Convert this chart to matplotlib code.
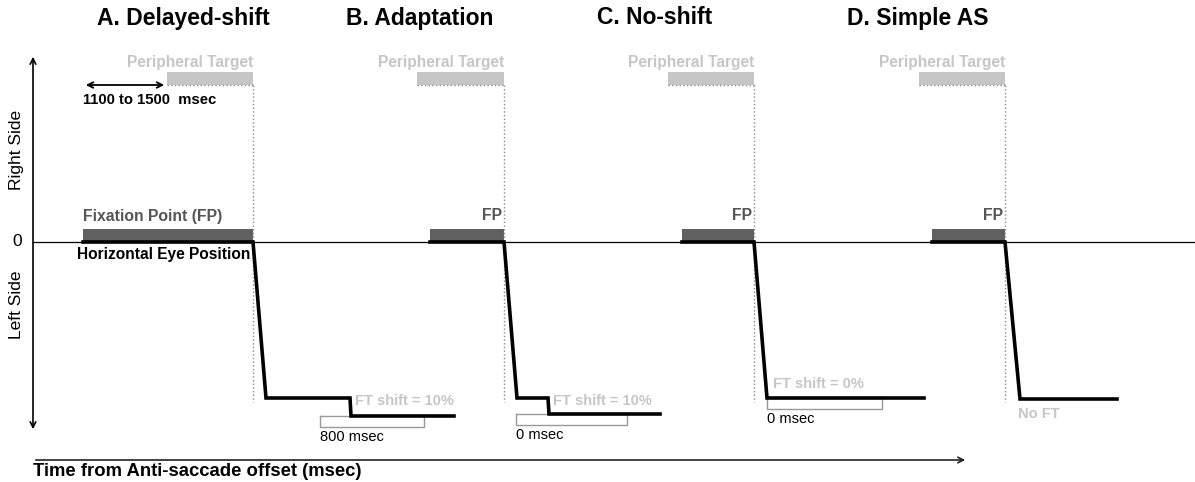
import matplotlib
matplotlib.use("Agg")
import matplotlib.pyplot as plt
from matplotlib.patches import Rectangle

plt.rcParams["font.family"] = ["Liberation Sans", "DejaVu Sans"]

# schematic coordinates: x = time units, y = position units (0 = centre)
titles = ["A. Delayed-shift", "B. Adaptation", "C. No-shift", "D. Simple AS"]
title_x = [183, 420, 655, 918]
fp_on = [83, 430, 682, 932]          # fixation point onset
go = [253, 504, 754, 1005]           # FP offset / target onset
pt_on = [167, 417, 668, 919]         # peripheral target bar start
sacc_end = [266, 517, 767, 1020]     # end of anti-saccade
shift_t = [350, 548, None, None]     # time of FT shift
trace_end = [454, 660, 924, 1117]
eye_after = [-156, -156, -156, -157]
eye_shift = [-174, -172, None, None]
ft_labels = ["FT shift = 10%", "FT shift = 10%", "FT shift = 0%", "No FT"]
delay_labels = ["800 msec", "0 msec", "0 msec", None]
box_x = [(320, 424), (516, 627), (767, 882), None]

PT_Y = (157, 170)
FP_Y = (0, 13)

LIGHT = "#c6c6c6"
DARK = "#606060"

fig = plt.figure(figsize=(11.95, 4.82), dpi=100)
ax = fig.add_axes([0, 0, 1, 1])
ax.set_xlim(0, 1195)
ax.set_ylim(-240, 242)
ax.axis("off")

# axes of the schematic
ax.annotate("", xy=(33, 188), xytext=(33, -190),
            arrowprops=dict(arrowstyle="<->", color="black", lw=1.2))
ax.plot([33, 1195], [0, 0], color="black", lw=0.9)
ax.annotate("", xy=(968, -218), xytext=(33, -218),
            arrowprops=dict(arrowstyle="->", color="#222", lw=1.2))
ax.text(17, 0, "0", ha="center", va="center", fontsize=12.5)
ax.text(17, 92, "Right Side", rotation=90, ha="center", va="center", fontsize=12.5)
ax.text(17, -63, "Left Side", rotation=90, ha="center", va="center", fontsize=12.5)
ax.text(33, -230, "Time from Anti-saccade offset (msec)", ha="left", va="center",
        fontsize=13.3, fontweight="bold")

for i in range(4):
    ax.text(title_x[i], 224, titles[i], ha="center", va="center",
            fontsize=16.5, fontweight="bold")
    # peripheral target
    ax.add_patch(Rectangle((pt_on[i], PT_Y[0]), go[i] - pt_on[i], PT_Y[1] - PT_Y[0],
                           color=LIGHT, lw=0))
    ax.plot([pt_on[i], go[i]], [PT_Y[0], PT_Y[0]], color="#888", lw=1, ls=":")
    ax.plot([go[i], go[i]], [PT_Y[0], -160], color="#888", lw=1, ls=":")
    ax.text(go[i], 180, "Peripheral Target", ha="right", va="center",
            fontsize=11.2, fontweight="bold", color=LIGHT)
    # fixation point
    ax.add_patch(Rectangle((fp_on[i], FP_Y[0]), go[i] - fp_on[i], FP_Y[1] - FP_Y[0],
                           color=DARK, lw=0))
    fp_txt = "Fixation Point (FP)" if i == 0 else "FP"
    ax.text(fp_on[i] if i == 0 else go[i] - 2, 26, fp_txt,
            ha="left" if i == 0 else "right", va="center",
            fontsize=11.3, fontweight="bold", color="#555")
    # eye trace
    xs = [fp_on[i], go[i], sacc_end[i]]
    ys = [0, 0, eye_after[i]]
    if shift_t[i] is not None:
        xs += [shift_t[i], shift_t[i] + 1, trace_end[i]]
        ys += [eye_after[i], eye_shift[i], eye_shift[i]]
    else:
        xs += [trace_end[i]]
        ys += [eye_after[i]]
    ax.plot(xs, ys, color="black", lw=2.6, solid_joinstyle="miter")
    # FT shift label
    if i == 3:
        ax.text(sacc_end[i] - 2, -172, ft_labels[i], ha="left", va="center",
                fontsize=10.5, fontweight="bold", color=LIGHT)
    elif shift_t[i] is not None:
        ax.text(shift_t[i] + 5, -159, ft_labels[i], ha="left", va="center",
                fontsize=10.5, fontweight="bold", color=LIGHT)
    else:
        ax.text(sacc_end[i] + 6, -142, ft_labels[i], ha="left", va="center",
                fontsize=10.5, fontweight="bold", color=LIGHT)
    # delay bracket
    if box_x[i] is not None:
        top = eye_shift[i] if eye_shift[i] is not None else eye_after[i]
        x0, x1 = box_x[i]
        ax.plot([x0, x0, x1, x1, x0], [top, top - 11, top - 11, top, top],
                color="#999", lw=1, zorder=1)
        ax.text(x0, top - 21, delay_labels[i], ha="left", va="center", fontsize=10.5)

# A-specific annotations
ax.annotate("", xy=(fp_on[0], PT_Y[0]), xytext=(pt_on[0], PT_Y[0]),
            arrowprops=dict(arrowstyle="<->", color="black", lw=1.3))
ax.text(fp_on[0], 142, "1100 to 1500  msec", ha="left", va="center",
        fontsize=10.7, fontweight="bold")
ax.text(77, -13, "Horizontal Eye Position", ha="left", va="center",
        fontsize=11.2, fontweight="bold")

fig.savefig("out.png", dpi=100)
